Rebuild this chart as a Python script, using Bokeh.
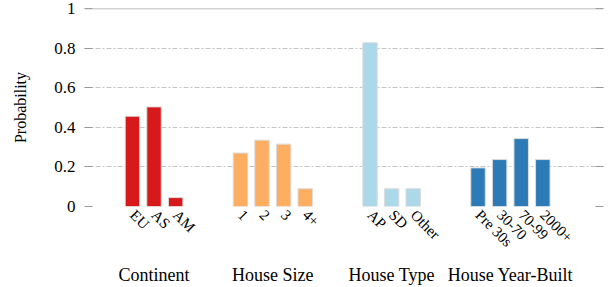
from math import pi
from bokeh.plotting import figure
from bokeh.models import FixedTicker, LinearAxis, Range1d, Span, ColumnDataSource
from bokeh.embed import file_html
from bokeh.resources import INLINE

# ---- data ----
groups = ["Continent", "House Size", "House Type", "House Year-Built"]
continent_labels = ["EU", "AS", "AM"]
continent_vals = [0.456, 0.503, 0.045]
size_labels = ["1", "2", "3", "4+"]
size_vals = [0.27, 0.335, 0.315, 0.09]
type_labels = ["AP", "SD", "Other"]
type_vals = [0.827, 0.09, 0.09]
year_labels = ["Pre 30s", "30-70", "70-99", "2000+"]
year_vals = [0.195, 0.237, 0.343, 0.237]
colors = ["#d7191c", "#fdae61", "#abd9e9", "#2c7bb6"]
y_ticks = [0, 0.2, 0.4, 0.6, 0.8, 1]
y_tick_labels = ["0", "0.2", "0.4", "0.6", "0.8", "1"]

group_labels = [continent_labels, size_labels, type_labels, year_labels]
group_vals = [continent_vals, size_vals, type_vals, year_vals]

# ---- layout of slots: bars one unit apart, two empty slots between groups ----
xs, tops, cols, names = [], [], [], []
group_centers = []
pos = 0
for labs, vals, c in zip(group_labels, group_vals, colors):
    start = pos
    for lab, v in zip(labs, vals):
        xs.append(pos)
        tops.append(v)
        cols.append(c)
        names.append(lab)
        pos += 1
    group_centers.append((start + pos - 1) / 2)
    pos += 2

src = ColumnDataSource(dict(x=xs, top=tops, color=cols))

FONT = "Liberation Serif"

p = figure(width=609, height=287, output_backend="svg", toolbar_location=None,
           x_range=Range1d(-2.22, 21.81), y_range=Range1d(0, 1),
           min_border_left=84, min_border_right=6, min_border_top=8, min_border_bottom=79)
p.outline_line_color = None
p.background_fill_color = "white"
p.border_fill_color = "white"

p.vbar(x="x", top="top", width=0.67, bottom=0, source=src,
       fill_color="color", line_color="#dcdcdc", line_width=1)

# grid
p.xgrid.visible = False
p.ygrid.ticker = FixedTicker(ticks=y_ticks)
p.ygrid.grid_line_color = "#c4c4c4"
p.ygrid.grid_line_dash = "5 2 2 2"
p.ygrid.grid_line_width = 1

p.add_layout(Span(location=1, dimension="width", line_color="#a8a8a8", line_width=1.5))

# y axis
ya = p.yaxis[0]
ya.ticker = FixedTicker(ticks=y_ticks)
ya.major_label_overrides = {t: l for t, l in zip(y_ticks, y_tick_labels)}
ya.axis_line_color = None
ya.major_tick_in = 8
ya.major_tick_out = 0
ya.major_tick_line_color = "#999999"
ya.minor_tick_line_color = None
ya.major_label_standoff = 9
ya.major_label_text_font = FONT
ya.major_label_text_font_size = "17px"
ya.major_label_text_color = "black"
ya.axis_label = "Probability"
ya.axis_label_text_font = FONT
ya.axis_label_text_font_size = "16px"
ya.axis_label_text_font_style = "normal"
ya.axis_label_text_color = "black"
ya.axis_label_standoff = 22

ra = LinearAxis(ticker=FixedTicker(ticks=y_ticks))
ra.axis_line_color = None
ra.major_tick_in = 8
ra.major_tick_out = 0
ra.major_tick_line_color = "#999999"
ra.minor_tick_line_color = None
ra.major_label_standoff = 0
ra.major_label_overrides = {t: "" for t in y_ticks}
ra.major_label_text_font_size = "0px"
p.add_layout(ra, "right")

# x axis with category labels
xa = p.xaxis[0]
xa.ticker = FixedTicker(ticks=xs)
xa.major_label_overrides = {x: n for x, n in zip(xs, names)}
xa.major_label_orientation = -pi / 4
xa.axis_line_color = None
xa.major_tick_line_color = None
xa.minor_tick_line_color = None
xa.major_tick_in = 0
xa.major_tick_out = 0
xa.major_label_standoff = 6
xa.major_label_text_font = FONT
xa.major_label_text_font_size = "15px"
xa.major_label_text_color = "black"

# group labels axis
ga = LinearAxis(ticker=FixedTicker(ticks=group_centers))
ga.major_label_overrides = {c: g for c, g in zip(group_centers, groups)}
ga.axis_line_color = None
ga.major_tick_line_color = None
ga.minor_tick_line_color = None
ga.major_tick_in = 0
ga.major_tick_out = 0
ga.major_label_standoff = 6
ga.major_label_text_font = FONT
ga.major_label_text_font_size = "18px"
ga.major_label_text_color = "black"
p.add_layout(ga, "below")

open("out.html", "w").write(file_html(p, INLINE))
